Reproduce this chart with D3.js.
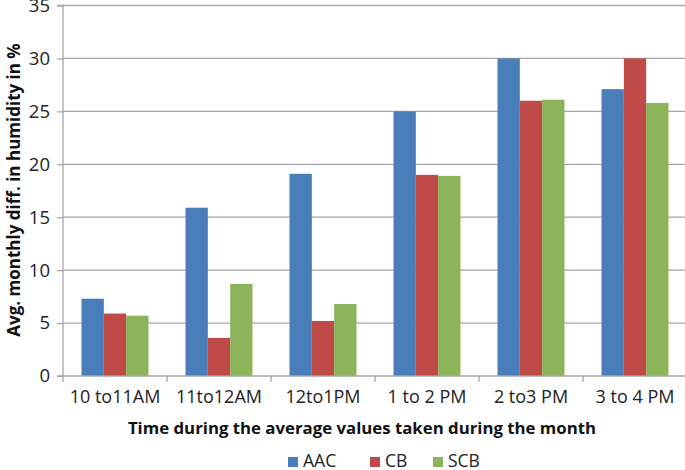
<!DOCTYPE html>
<html><head><meta charset="utf-8">
<script src="https://cdn.jsdelivr.net/npm/d3@7"></script>
<style>body{margin:0;background:#fff}</style>
</head><body>
<svg id="c" width="685" height="470"></svg>
<script>
const categories = ["10 to11AM","11to12AM","12to1PM","1 to 2 PM","2 to3 PM","3 to 4 PM"];
const seriesNames = ["AAC","CB","SCB"];
const AAC = [7.3, 15.9, 19.1, 25.0, 30.0, 27.1];
const CB  = [5.9, 3.6, 5.2, 19.0, 26.0, 30.0];
const SCB = [5.7, 8.7, 6.8, 18.9, 26.1, 25.8];
const yTicks = [0,5,10,15,20,25,30,35];
const colors = ["#4A7EBB","#BE4B48","#8CB45A"];
const seriesVals = [AAC, CB, SCB];

const svg = d3.select("#c");
const font = "'Open Sans', 'Liberation Sans', sans-serif";
const mLeft = 63, mRight = 687, mTop = 5.5, mBottom = 376;

const x = d3.scaleBand().domain(categories).range([mLeft, mRight]).paddingInner(0.356).paddingOuter(0.178);
const xs = d3.scaleBand().domain(seriesNames).range([0, x.bandwidth()]);
const y = d3.scaleLinear().domain([0,35]).range([mBottom, mTop]);

// gridlines
svg.append("g").selectAll("line").data(yTicks.filter(d=>d>0)).join("line")
  .attr("x1", mLeft).attr("x2", 685).attr("y1", d=>y(d)).attr("y2", d=>y(d))
  .attr("stroke", "#a6a6a6").attr("stroke-width", 1.3);

// bars
const g = svg.append("g");
seriesNames.forEach((s, si) => {
  g.selectAll(".b"+si).data(categories).join("rect")
    .attr("x", d => x(d) + xs(s))
    .attr("width", xs.bandwidth())
    .attr("y", (d,i) => y(seriesVals[si][i]))
    .attr("height", (d,i) => mBottom - y(seriesVals[si][i]))
    .attr("fill", colors[si]);
});

// y axis
const yAxis = d3.axisLeft(y).tickValues(yTicks).tickSize(6).tickPadding(7);
const ya = svg.append("g").attr("transform", `translate(${mLeft},0)`).call(yAxis);
ya.select(".domain").attr("stroke", "#a6a6a6").attr("stroke-width", 1.3).attr("d", `M-6,${mTop}H0V${mBottom}`);
ya.selectAll(".tick line").attr("stroke", "#a6a6a6").attr("stroke-width", 1.3);
ya.selectAll(".tick text").attr("font-family", font).attr("font-size", 18.5).attr("fill", "#222");

// x axis
const xa = svg.append("g").attr("transform", `translate(0,${mBottom})`);
xa.append("line").attr("x1", mLeft-6).attr("x2", 685).attr("y1",0).attr("y2",0)
  .attr("stroke", "#a6a6a6").attr("stroke-width", 1.3);
const bounds = categories.map(c => x(c) - x.step()*x.paddingInner()/2).concat([mRight]);
xa.selectAll(".xt").data(bounds).join("line").attr("class","xt")
  .attr("x1", d=>d).attr("x2", d=>d).attr("y1", 0).attr("y2", 6)
  .attr("stroke", "#a6a6a6").attr("stroke-width", 1.3);
xa.selectAll(".xl").data(categories).join("text").attr("class","xl")
  .attr("x", d => x(d) + x.bandwidth()/2).attr("y", 27)
  .attr("text-anchor","middle").attr("font-family", font).attr("font-size", 18).attr("fill","#222")
  .text(d=>d);

// axis titles
svg.append("text").attr("x", 362).attr("y", 434).attr("text-anchor","middle")
  .attr("font-family", font).attr("font-weight","bold").attr("font-size", 16.8).attr("fill","#111")
  .text("Time during the average values taken during the month");
svg.append("text").attr("transform", "translate(20,190) rotate(-90)").attr("text-anchor","middle")
  .attr("font-family", font).attr("font-weight","bold").attr("font-size", 17).attr("fill","#111")
  .text("Avg. monthly diff. in humidity in %");

// legend
const legX = [288, 370, 433];
const lg = svg.append("g");
seriesNames.forEach((s, i) => {
  lg.append("rect").attr("x", legX[i]).attr("y", 457).attr("width", 10).attr("height", 10).attr("fill", colors[i]);
  lg.append("text").attr("x", legX[i]+15).attr("y", 467).attr("font-family", font).attr("font-size", 17.5)
    .attr("fill","#222").text(s);
});
</script>
</body></html>
